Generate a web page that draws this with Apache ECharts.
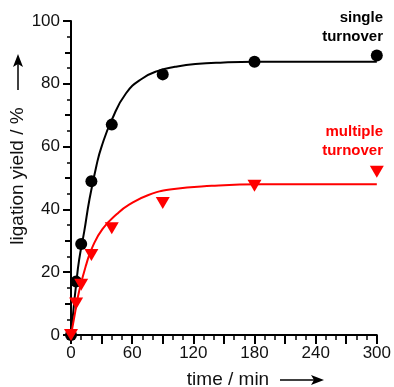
<!DOCTYPE html>
<html>
<head>
<meta charset="utf-8">
<script src="https://cdn.jsdelivr.net/npm/echarts@6/dist/echarts.min.js"></script>
<style>html,body{margin:0;padding:0;background:#fff}#c{width:394px;height:387px}</style>
</head>
<body>
<div id="c"></div>
<script>
// Data (time in min, ligation yield in %)
var singleTimes = [0, 5, 10, 20, 40, 90, 180, 300];
var singleYield = [0, 17, 29, 49, 67, 83, 87, 89];
var multiTimes = [0, 5, 10, 20, 40, 90, 180, 300];
var multiYield = [0, 10, 16, 25.5, 34, 42, 47.5, 52];
// fitted curves
var singleFitT = [0, 3, 5, 8, 13, 18, 25, 30, 40, 54, 70, 86, 102, 122, 150, 180, 240, 300];
var singleFitY = [0, 10, 16, 24, 33, 43, 54, 60, 68.5, 77, 81.7, 84.2, 85.4, 86.3, 86.8, 87, 87, 87];
var multiFitT = [0, 3.4, 8, 15, 21, 31, 45, 57, 76, 99, 138, 187, 240, 300];
var multiFitY = [0, 6, 14, 22.5, 28, 33.8, 38.5, 41.5, 44.6, 46.4, 47.5, 48, 48, 48];
var xTicks = [0, 60, 120, 180, 240, 300];
var yTicks = [0, 20, 40, 60, 80, 100];

function zip(a, b) { return a.map(function (v, i) { return [v, b[i]]; }); }

var chart = echarts.init(document.getElementById('c'));
var font = 'Liberation Sans, Arial, sans-serif';
chart.setOption({
  animation: false,
  grid: { left: 71, right: 14.5, top: 21, bottom: 52 },
  xAxis: [{
    type: 'value', min: xTicks[0], max: xTicks[xTicks.length - 1], interval: 60,
    axisLine: { lineStyle: { color: '#000', width: 2 } },
    splitLine: { show: false },
    axisTick: { length: 9, lineStyle: { color: '#000', width: 2 } },
    minorTick: { show: true, splitNumber: 6, length: 5, lineStyle: { color: '#000', width: 1.5 } },
    axisLabel: { fontSize: 17, color: '#111', fontFamily: font, margin: 10 }
  }, {
    type: 'value', min: 0, max: 300, interval: 30, position: 'bottom',
    axisLine: { show: false }, splitLine: { show: false },
    axisTick: { length: 9, lineStyle: { color: '#000', width: 2 } },
    axisLabel: { show: false }
  }],
  yAxis: [{
    type: 'value', min: yTicks[0], max: yTicks[yTicks.length - 1], interval: 20,
    axisLine: { show: true, lineStyle: { color: '#000', width: 2 } },
    splitLine: { show: false },
    axisTick: { show: true, length: 8, lineStyle: { color: '#000', width: 2 } },
    minorTick: { show: true, splitNumber: 4, length: 4, lineStyle: { color: '#000', width: 1.5 } },
    axisLabel: { fontSize: 17, color: '#111', fontFamily: font, margin: 11 }
  }, {
    type: 'value', min: 0, max: 100, interval: 10, position: 'left',
    axisLine: { show: false }, splitLine: { show: false },
    axisTick: { show: true, length: 6, lineStyle: { color: '#000', width: 2 } },
    axisLabel: { show: false }
  }],
  series: [
    { type: 'line', data: zip(singleFitT, singleFitY), smooth: true, showSymbol: false,
      lineStyle: { color: '#000', width: 2 }, z: 2 },
    { type: 'line', data: zip(multiFitT, multiFitY), smooth: true, showSymbol: false,
      lineStyle: { color: '#ff0000', width: 2 }, z: 2 },
    { type: 'scatter', data: zip(singleTimes, singleYield), symbol: 'circle', symbolSize: 12,
      itemStyle: { color: '#000', opacity: 1 }, z: 3 },
    { type: 'scatter', data: zip(multiTimes, multiYield), symbol: 'triangle', symbolRotate: 180,
      symbolSize: [14, 12], itemStyle: { color: '#ff0000', opacity: 1 }, z: 4 }
  ],
  graphic: [
    { type: 'text', x: 383, y: 18, style: { text: 'single', fill: '#000', font: 'bold 15px ' + font, align: 'right', verticalAlign: 'middle' } },
    { type: 'text', x: 383, y: 37, style: { text: 'turnover', fill: '#000', font: 'bold 15px ' + font, align: 'right', verticalAlign: 'middle' } },
    { type: 'text', x: 383, y: 132, style: { text: 'multiple', fill: '#ff0000', font: 'bold 15px ' + font, align: 'right', verticalAlign: 'middle' } },
    { type: 'text', x: 383, y: 151, style: { text: 'turnover', fill: '#ff0000', font: 'bold 15px ' + font, align: 'right', verticalAlign: 'middle' } },
    // x axis title + arrow
    { type: 'text', x: 228, y: 380, style: { text: 'time / min', fill: '#111', font: '19px ' + font, align: 'center', verticalAlign: 'middle' } },
    { type: 'line', shape: { x1: 280, y1: 380, x2: 318, y2: 380 }, style: { stroke: '#000', lineWidth: 1.5 } },
    { type: 'polygon', shape: { points: [[324, 380], [311, 375], [314, 380], [311, 385]] }, style: { fill: '#000' } },
    // y axis title + arrow
    { type: 'text', x: 18, y: 176, rotation: Math.PI / 2, style: { text: 'ligation yield / %', fill: '#111', font: '19px ' + font, align: 'center', verticalAlign: 'middle' } },
    { type: 'line', shape: { x1: 18, y1: 90, x2: 18, y2: 60 }, style: { stroke: '#000', lineWidth: 1.5 } },
    { type: 'polygon', shape: { points: [[18, 54], [13, 67], [18, 64], [23, 67]] }, style: { fill: '#000' } }
  ]
});
</script>
</body>
</html>
